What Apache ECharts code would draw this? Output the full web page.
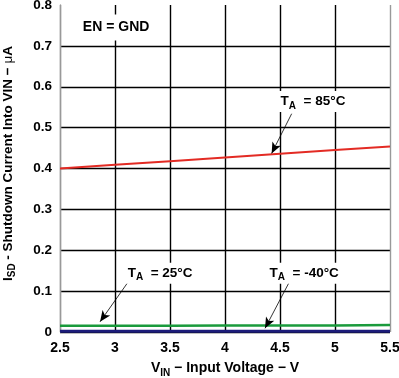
<!DOCTYPE html>
<html><head><meta charset="utf-8">
<script src="https://cdn.jsdelivr.net/npm/echarts@6/dist/echarts.min.js"></script>
<style>html,body{margin:0;padding:0;background:#fff}#c{width:399px;height:378px}</style>
</head><body><div id="c"></div>
<script>
const voltages = [2.5, 3, 3.5, 4, 4.5, 5, 5.5];
const current85 = [0.400, 0.409, 0.418, 0.427, 0.436, 0.445, 0.454];
const current25 = [0.015, 0.015, 0.015, 0.016, 0.016, 0.016, 0.017];
const currentM40 = [0.002, 0.002, 0.002, 0.002, 0.002, 0.002, 0.002];
const xTicks = ['2.5', '3', '3.5', '4', '4.5', '5', '5.5'];
const yTicks = ['0', '0.1', '0.2', '0.3', '0.4', '0.5', '0.6', '0.7', '0.8'];

const FONT = '"Liberation Sans", Arial, sans-serif';
const rich = {
  b: {fontFamily: FONT, fontWeight: 'bold', fontSize: 13.5, color: '#000'},
  s: {fontFamily: FONT, fontWeight: 'bold', fontSize: 10, color: '#000', padding: [9, 0, 0, 0]}
};
function labelPoint(x, y, text) {
  return {coord: [x, y], symbol: 'circle', symbolSize: 0,
    label: {show: true, position: 'inside', formatter: text, rich: rich,
      backgroundColor: '#fff', padding: [1, 2, 1, 2]}};
}
function arrow(x1, y1, x2, y2) {
  return [{coord: [x1, y1]}, {coord: [x2, y2]}];
}
const mlStyle = {symbol: ['none', 'arrow'], symbolSize: [7, 11], silent: true,
  lineStyle: {color: '#000', width: 0.8, type: 'solid'}, label: {show: false}};

const chart = echarts.init(document.getElementById('c'));
chart.setOption({
  animation: false,
  grid: {left: 60, right: 9, top: 5, bottom: 46, outerBoundsMode: 'none', containLabel: false},
  xAxis: {
    type: 'value', min: 2.5, max: 5.5, interval: 0.5,
    axisLine: {show: false}, axisTick: {show: false},
    axisLabel: {margin: 9, color: '#000', fontFamily: FONT, fontWeight: 'bold', fontSize: 14,
      formatter: v => xTicks[Math.round((v - 2.5) / 0.5)]},
    splitLine: {show: true, lineStyle: {color: ['#999', '#000', '#000', '#000', '#000', '#000', '#999'], width: 1.4}},
    name: '{b|V}{s|IN}{b| − Input Voltage − V}', nameLocation: 'middle', nameGap: 27,
    nameTextStyle: {rich: {b: Object.assign({}, rich.b, {fontSize: 14}), s: rich.s}}
  },
  yAxis: {
    type: 'value', min: 0, max: 0.8, interval: 0.1,
    axisLine: {show: true, lineStyle: {color: '#999', width: 1.4}}, axisTick: {show: false},
    axisLabel: {margin: 8, color: '#000', fontFamily: FONT, fontWeight: 'bold', fontSize: 13.5,
      formatter: v => yTicks[Math.round(v / 0.1)]},
    splitLine: {show: true, lineStyle: {color: ['#000', '#000', '#000', '#000', '#000', '#000', '#000', '#000', 'rgba(0,0,0,0)'], width: 1.4}}
  },
  graphic: [{
    type: 'text', left: 1, top: 46, rotation: Math.PI / 2, z: 100,
    style: {text: '{b|I}{s2|SD}{b| - Shutdown Current Into VIN − }{m|μ}{b|A}',
      rich: {b: rich.b, s2: {fontFamily: FONT, fontWeight: 'bold', fontSize: 10, color: '#000', padding: [9, 0, 0, 0]},
        m: {fontFamily: FONT, fontSize: 13.5, color: '#000'}}}
  }],
  series: [
    {type: 'line', data: voltages.map((v, i) => [v, currentM40[i]]), symbol: 'none',
      lineStyle: {color: '#1c1c7a', width: 3}, z: 3,
      markLine: Object.assign({data: [arrow(4.59, 0.125, 4.364, 0.009)]}, mlStyle),
      markPoint: {data: [labelPoint(4.72, 0.144, '{b|T}{s|A}{b|  = -40°C}')]}},
    {type: 'line', data: voltages.map((v, i) => [v, current25[i]]), symbol: 'none',
      lineStyle: {color: '#1a9a3c', width: 2.5}, z: 3,
      markLine: Object.assign({data: [arrow(3.121, 0.123, 2.864, 0.025)]}, mlStyle),
      markPoint: {data: [labelPoint(3.41, 0.144, '{b|T}{s|A}{b|  = 25°C}')]}},
    {type: 'line', data: voltages.map((v, i) => [v, current85[i]]), symbol: 'none',
      lineStyle: {color: '#e32b24', width: 2}, z: 3,
      markLine: Object.assign({data: [arrow(4.606, 0.534, 4.424, 0.437)]}, mlStyle),
      markPoint: {data: [labelPoint(4.80, 0.564, '{b|T}{s|A}{b|  = 85°C}'),
        {coord: [3.01, 0.745], symbol: 'circle', symbolSize: 0,
          label: {show: true, position: 'inside', formatter: '{b|EN = GND}',
            rich: {b: Object.assign({}, rich.b, {fontSize: 14})},
            backgroundColor: '#fff', padding: [6, 3, 6, 3]}}]}}
  ]
});
</script></body></html>
